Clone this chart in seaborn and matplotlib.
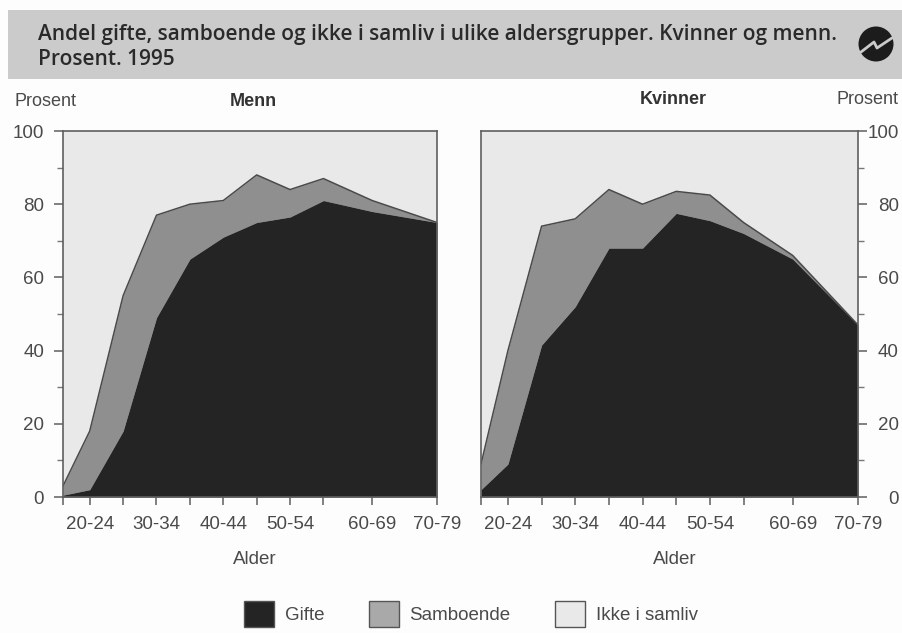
import matplotlib
matplotlib.use('Agg')
import matplotlib.pyplot as plt
from matplotlib.patches import Circle, Patch, Rectangle
import seaborn as sns
import pandas as pd

# age groups, midpoints on the age axis
ages = [18, 22, 27, 32, 37, 42, 47, 52, 57, 64.3, 74]
tick_labels = {22: '20-24', 32: '30-34', 42: '40-44', 52: '50-54', 64.3: '60-69', 74: '70-79'}

menn_gifte = [0.5, 2, 18, 49, 65, 71, 75, 76.5, 81, 78, 75]
menn_sum = [3, 18, 55, 77, 80, 81, 88, 84, 87, 81, 75]
kvinner_gifte = [2, 9, 41.5, 52, 68, 68, 77.5, 75.5, 72, 65, 47]
kvinner_sum = [9, 40, 74, 76, 84, 80, 83.5, 82.5, 75, 66, 47]

title_text = 'Andel gifte, samboende og ikke i samliv i ulike aldersgrupper. Kvinner og menn.\nProsent. 1995'

DARK = '#242424'
MID = '#8f8f8f'
LIGHT = '#e9e9e9'
TEXT = '#4a4a4a'
AXIS = '#5f5f5f'

sns.set_theme(style='white')
plt.rcParams['font.family'] = ['Liberation Sans', 'DejaVu Sans']

W, H = 902, 633
fig = plt.figure(figsize=(W / 100, H / 100), dpi=100, facecolor='#fdfdfd')


def panel(x0, x1, gifte, total, side):
    ax = fig.add_axes([x0 / W, 1 - 497 / H, (x1 - x0) / W, 366 / H])
    df = pd.DataFrame({'alder': ages, 'gifte': gifte, 'sum': total})
    ax.set_facecolor(LIGHT)
    ax.fill_between(df['alder'], df['gifte'], df['sum'], color=MID, lw=0)
    ax.fill_between(df['alder'], 0, df['gifte'], color=DARK, lw=0)
    sns.lineplot(data=df, x='alder', y='sum', ax=ax, color='#4a4a4a', lw=1.1)
    ax.set_xlim(18, 74)
    ax.set_ylim(0, 100)
    ax.set_xticks(ages)
    ax.set_xticklabels([tick_labels.get(a, '') for a in ages], fontsize=13.5, color=TEXT)
    ax.set_yticks(range(0, 101, 20))
    ax.set_yticks(range(10, 100, 20), minor=True)
    ax.tick_params(axis='x', length=5.5, width=1.1, color=AXIS, pad=8, bottom=True)
    ax.tick_params(axis='y', which='major', length=6.5, width=1.1, color=AXIS,
                   pad=7 if side == 'left' else 23,
                   labelsize=13.5, labelcolor=TEXT, left=side == 'left', right=side == 'right',
                   labelleft=side == 'left', labelright=side == 'right')
    ax.tick_params(axis='y', which='minor', length=4.5, width=1, color='#777777',
                   left=side == 'left', right=side == 'right')
    if side == 'right':
        for t in ax.get_yticklabels():
            t.set_ha('right')
    ax.set_xlabel('Alder', fontsize=13.5, color=TEXT, labelpad=13)
    ax.xaxis.label.set_x(0.514)
    ax.set_ylabel('')
    for s in ax.spines.values():
        s.set_visible(True)
        s.set_color(AXIS)
        s.set_linewidth(1.2)
    return ax


panel(63, 437, menn_gifte, menn_sum, 'left')
panel(481, 858, kvinner_gifte, kvinner_sum, 'right')

# page layer in pixel coordinates: banner, logo, headings
bg = fig.add_axes([0, 0, 1, 1], zorder=-1)
bg.set_xlim(0, W)
bg.set_ylim(H, 0)
bg.axis('off')
bg.add_patch(Rectangle((8, 10), W - 8, 69, color='#cbcbcb', lw=0))
bg.add_patch(Circle((876, 44), 17.5, color='#1c1c1c', lw=0))
bg.plot([861, 874, 877, 892], [52, 42, 48, 38], color='#cbcbcb', lw=2)

bg.text(38, 47, title_text, fontsize=15, weight='semibold', color='#2a2a2a', family='Open Sans',
        va='center', linespacing=1.2)
bg.text(15, 102, 'Prosent', fontsize=13, color=TEXT, va='center')
bg.text(253, 102, 'Menn', fontsize=13, weight='bold', color='#333333', va='center', ha='center')
bg.text(673, 100, 'Kvinner', fontsize=13, weight='bold', color='#333333', va='center', ha='center')
bg.text(899, 100, 'Prosent', fontsize=13, color=TEXT, va='center', ha='right')

handles = [Patch(facecolor=DARK, edgecolor='#555555', label='Gifte'),
           Patch(facecolor='#a9a9a9', edgecolor='#555555', label='Samboende'),
           Patch(facecolor=LIGHT, edgecolor='#555555', label='Ikke i samliv')]
fig.legend(handles=handles, loc='center', bbox_to_anchor=(471 / W, 1 - 614 / H), ncol=3, frameon=False,
           fontsize=13.5, labelcolor=TEXT, handlelength=1.6, handleheight=1.7, columnspacing=2.4,
           handletextpad=0.55)

fig.savefig('out.png', dpi=100, facecolor=fig.get_facecolor())
